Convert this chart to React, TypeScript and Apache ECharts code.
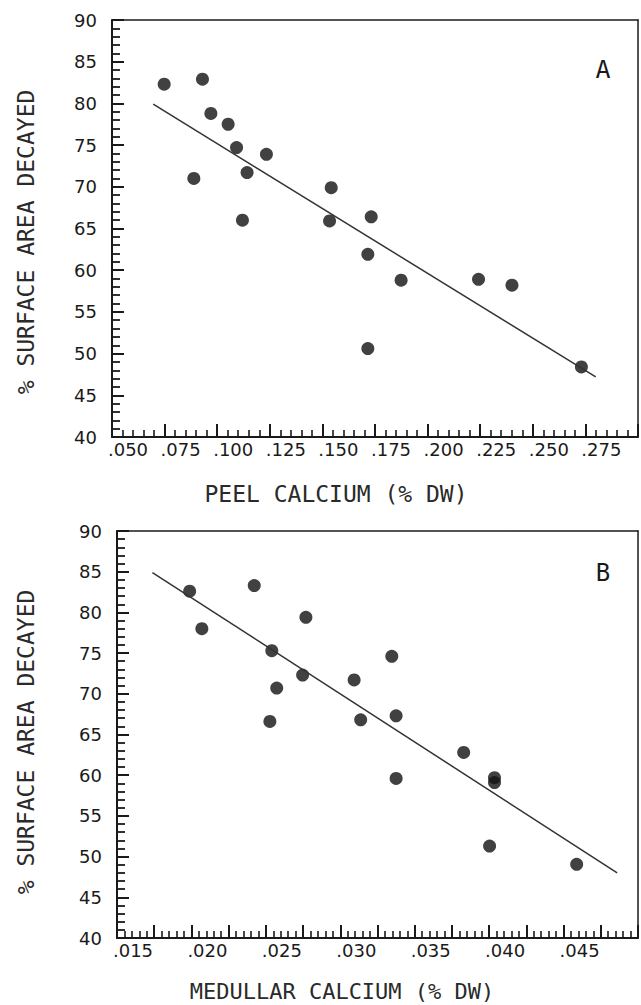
import React, { useEffect, useRef } from "react";
import * as echarts from "echarts";

// Panel A: peel calcium vs % surface area decayed
const A_X = [0.0748, 0.093, 0.097, 0.1052, 0.1092, 0.1234, 0.0889, 0.1142, 0.112, 0.1542, 0.1534, 0.1732, 0.1716, 0.1874, 0.2242, 0.2401, 0.1716, 0.2731];
const A_Y = [82.3, 82.9, 78.8, 77.5, 74.7, 73.9, 71.0, 71.7, 66.0, 69.9, 65.9, 66.4, 61.9, 58.8, 58.9, 58.2, 50.6, 48.4];
const A_FIT_X = [0.0696, 0.2799];
const A_FIT_Y = [79.9, 47.2];
const A_XLABELS = [".050", ".075", ".100", ".125", ".150", ".175", ".200", ".225", ".250", ".275"];

// Panel B: medullar calcium vs % surface area decayed
const B_X = [0.01988, 0.0207, 0.02422, 0.02769, 0.0254, 0.02747, 0.02573, 0.02527, 0.03093, 0.03137, 0.03346, 0.03375, 0.03375, 0.03829, 0.04036, 0.04036, 0.04003, 0.04588];
const B_Y = [82.6, 78.0, 83.3, 79.4, 75.3, 72.3, 70.7, 66.6, 71.7, 66.8, 74.6, 67.3, 59.6, 62.8, 59.7, 59.1, 51.3, 49.05];
const B_FIT_X = [0.01738, 0.0486];
const B_FIT_Y = [84.9, 48.0];
const B_XLABELS = [".015", "", ".020", "", ".025", "", ".030", "", ".035", "", ".040", "", ".045", ""];

const Y_MIN = 40;
const Y_MAX = 90;

const INK = "#1a1a1a";
const TICK_FONT = "DejaVu Sans";
const TITLE_FONT = "DejaVu Sans Mono";

function pairs(xs: number[], ys: number[]) {
  return xs.map((x, i) => [x, ys[i]]);
}

function xAxisOpt(gridIndex: number, min: number, max: number, interval: number, labels: string[]) {
  return {
    type: "value",
    gridIndex,
    min,
    max,
    interval,
    z: 5,
    axisLine: { show: true, onZero: false, lineStyle: { color: INK, width: 2 } },
    axisTick: { show: true, inside: true, length: 13, lineStyle: { color: INK, width: 2 } },
    minorTick: { show: true, splitNumber: 5, length: 7, lineStyle: { color: INK, width: 1.6 } },
    splitLine: { show: false },
    axisLabel: {
      margin: 3,
      color: INK,
      fontFamily: TICK_FONT,
      fontSize: 18,
      padding: [0, 0, 0, 32],
      formatter: (_v: number, idx: number) => labels[idx] ?? "",
    },
  };
}

function yAxisOpt(gridIndex: number) {
  return {
    type: "value",
    gridIndex,
    min: Y_MIN,
    max: Y_MAX,
    interval: 5,
    z: 5,
    axisLine: { show: true, onZero: false, lineStyle: { color: INK, width: 2 } },
    axisTick: { show: true, inside: true, length: 12, lineStyle: { color: INK, width: 2 } },
    minorTick: { show: true, splitNumber: 5, length: 8, lineStyle: { color: INK, width: 1.8 } },
    splitLine: { show: false },
    axisLabel: {
      margin: 15,
      color: INK,
      fontFamily: TICK_FONT,
      fontSize: 18,
      formatter: (v: number) => String(Math.round(v)),
    },
  };
}

// frame-only axes (top / right border of each panel)
function frameAxis(gridIndex: number, position: string, min: number, max: number) {
  return {
    type: "value",
    gridIndex,
    position,
    min,
    max,
    axisLine: { show: true, onZero: false, lineStyle: { color: INK, width: 1.5 } },
    axisTick: { show: false },
    minorTick: { show: false },
    axisLabel: { show: false },
    splitLine: { show: false },
  };
}

export default function App() {
  const ref = useRef<HTMLDivElement>(null);

  useEffect(() => {
    document.body.style.margin = "0";
    if (!ref.current) return;
    const chart = echarts.init(ref.current, null, { renderer: "svg" });
    const titleStyle = { font: `23px "${TITLE_FONT}"`, fill: "#2a2a2a", align: "center", verticalAlign: "middle" };
    chart.setOption({
      animation: false,
      backgroundColor: "#ffffff",
      grid: [
        { left: 112, top: 20, width: 527, height: 417 },
        { left: 117, top: 531, width: 523, height: 407 },
      ],
      xAxis: [
        xAxisOpt(0, 0.05, 0.3, 0.025, A_XLABELS),
        xAxisOpt(1, 0.015, 0.05, 0.0025, B_XLABELS),
        frameAxis(0, "top", 0.05, 0.3),
        frameAxis(1, "top", 0.015, 0.05),
      ],
      yAxis: [yAxisOpt(0), yAxisOpt(1), frameAxis(0, "right", Y_MIN, Y_MAX), frameAxis(1, "right", Y_MIN, Y_MAX)],
      series: [
        { type: "scatter", xAxisIndex: 0, yAxisIndex: 0, data: pairs(A_X, A_Y), symbolSize: 13, itemStyle: { color: "#111" } },
        { type: "line", xAxisIndex: 0, yAxisIndex: 0, data: pairs(A_FIT_X, A_FIT_Y), symbol: "none", lineStyle: { color: "#333", width: 1.5 } },
        { type: "scatter", xAxisIndex: 1, yAxisIndex: 1, data: pairs(B_X, B_Y), symbolSize: 13, itemStyle: { color: "#111" } },
        { type: "line", xAxisIndex: 1, yAxisIndex: 1, data: pairs(B_FIT_X, B_FIT_Y), symbol: "none", lineStyle: { color: "#333", width: 1.5 } },
      ],
      graphic: [
        { type: "text", x: 603, y: 69, style: { text: "A", font: `25px "${TITLE_FONT}"`, fill: INK, align: "center", verticalAlign: "middle" } },
        { type: "text", x: 603, y: 573, style: { text: "B", font: `24px "${TITLE_FONT}"`, fill: INK, align: "center", verticalAlign: "middle" } },
        { type: "text", x: 336, y: 494, style: { text: "PEEL CALCIUM (% DW)", ...titleStyle } },
        { type: "text", x: 342, y: 991, style: { text: "MEDULLAR CALCIUM (% DW)", ...titleStyle, font: `22px "${TITLE_FONT}"` } },
        { type: "text", x: 26, y: 242, rotation: Math.PI / 2, style: { text: "% SURFACE AREA DECAYED", ...titleStyle } },
        { type: "text", x: 26, y: 742, rotation: Math.PI / 2, style: { text: "% SURFACE AREA DECAYED", ...titleStyle } },
      ],
    });
    return () => chart.dispose();
  }, []);

  return (
    <div
      ref={ref}
      style={{ position: "absolute", left: 0, top: 0, width: 641, height: 1005, background: "#fff" }}
    />
  );
}
